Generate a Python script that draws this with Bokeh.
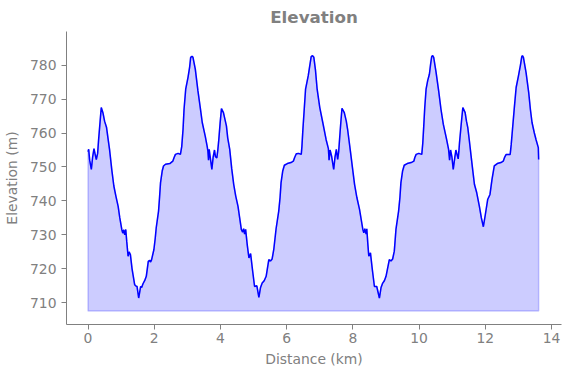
from bokeh.plotting import figure
from bokeh.models import Range1d, FixedTicker
from bokeh.embed import file_html
from bokeh.resources import INLINE

distance_km = [
    0.00, 0.02, 0.05, 0.10, 0.14, 0.18, 0.22, 0.25, 0.29, 0.32, 0.37, 0.40, 0.45, 0.50, 0.56, 0.61,
    0.65, 0.72, 0.78, 0.84, 0.91, 0.96, 1.02, 1.05, 1.08, 1.11, 1.14, 1.17, 1.21, 1.24, 1.28, 1.33,
    1.41, 1.44, 1.48, 1.53, 1.59, 1.62, 1.66, 1.71, 1.76, 1.82, 1.86, 1.89, 1.92, 1.99, 2.03, 2.06,
    2.13, 2.16, 2.19, 2.24, 2.28, 2.34, 2.47, 2.56, 2.60, 2.64, 2.72, 2.79, 2.83, 2.87, 2.90, 2.95,
    3.02, 3.07, 3.10, 3.14, 3.17, 3.24, 3.32, 3.39, 3.45, 3.54, 3.60, 3.62, 3.64, 3.66, 3.69, 3.74,
    3.78, 3.82, 3.85, 3.89, 3.92, 3.95, 3.99, 4.03, 4.09, 4.18, 4.22, 4.28, 4.34, 4.40, 4.46, 4.53,
    4.58, 4.63, 4.67, 4.70, 4.73, 4.76, 4.81, 4.86, 4.91, 4.97, 5.03, 5.10, 5.16, 5.21, 5.26, 5.32,
    5.38, 5.46, 5.51, 5.56, 5.61, 5.68, 5.76, 5.80, 5.83, 5.88, 5.93, 6.02, 6.13, 6.20, 6.24, 6.29,
    6.36, 6.44, 6.46, 6.49, 6.53, 6.57, 6.65, 6.70, 6.74, 6.78, 6.82, 6.87, 6.92, 7.00, 7.09, 7.19,
    7.26, 7.28, 7.31, 7.36, 7.42, 7.46, 7.50, 7.54, 7.57, 7.59, 7.63, 7.67, 7.74, 7.80, 7.84, 7.93,
    7.99, 8.05, 8.12, 8.20, 8.30, 8.33, 8.36, 8.40, 8.42, 8.45, 8.48, 8.53, 8.59, 8.65, 8.72, 8.80,
    8.85, 8.90, 8.95, 9.00, 9.10, 9.15, 9.20, 9.25, 9.30, 9.38, 9.42, 9.45, 9.50, 9.55, 9.64, 9.76,
    9.84, 9.87, 9.91, 9.99, 10.08, 10.11, 10.14, 10.17, 10.21, 10.26, 10.31, 10.35, 10.38, 10.41, 10.44, 10.51,
    10.59, 10.66, 10.73, 10.83, 10.89, 10.92, 10.95, 10.99, 11.03, 11.08, 11.11, 11.18, 11.20, 11.22, 11.27, 11.32,
    11.39, 11.43, 11.47, 11.52, 11.57, 11.62, 11.67, 11.74, 11.82, 11.88, 11.94, 12.00, 12.07, 12.14, 12.20, 12.27,
    12.36, 12.47, 12.54, 12.58, 12.63, 12.75, 12.78, 12.82, 12.88, 12.93, 13.00, 13.06, 13.10, 13.12, 13.15, 13.23,
    13.31, 13.36, 13.41, 13.48, 13.53, 13.60, 13.61,
]

elevation_m = [
    754.5, 755.2, 752.0, 749.3, 753.0, 755.4, 753.5, 752.2, 754.0, 758.1, 764.0, 767.5, 766.0, 763.5, 761.6, 758.0,
    755.2, 749.0, 744.4, 741.5, 738.4, 735.0, 731.6, 730.5, 731.5, 730.0, 731.6, 728.0, 723.7, 725.0, 724.2, 720.0,
    715.3, 715.0, 714.8, 711.4, 714.8, 714.5, 715.6, 716.5, 717.8, 722.2, 722.5, 722.0, 722.7, 725.7, 729.0, 732.1,
    737.0, 741.0, 745.4, 748.8, 750.3, 750.8, 751.0, 751.7, 752.8, 753.7, 754.0, 753.7, 756.0, 761.1, 767.0, 772.9,
    776.4, 779.5, 782.3, 782.6, 782.3, 778.8, 772.4, 767.5, 763.1, 759.1, 756.0, 754.7, 752.0, 755.2, 753.0, 749.3,
    753.0, 755.0, 753.0, 752.7, 755.0, 758.1, 763.0, 767.2, 766.0, 762.1, 758.5, 755.2, 749.5, 744.9, 741.5, 738.4,
    735.0, 731.6, 730.8, 731.8, 730.2, 731.6, 727.0, 723.2, 724.5, 719.5, 714.8, 715.0, 711.6, 714.5, 715.8, 716.5,
    717.8, 722.7, 722.3, 722.9, 725.7, 731.8, 737.0, 741.0, 745.4, 748.8, 750.5, 751.0, 751.3, 751.7, 752.8, 753.9,
    754.0, 753.7, 756.0, 761.1, 767.0, 772.9, 776.8, 780.0, 782.5, 782.8, 782.3, 778.5, 772.9, 767.5, 763.1, 758.1,
    755.4, 752.0, 755.0, 753.0, 749.3, 753.0, 755.2, 752.2, 754.5, 757.2, 762.5, 767.3, 766.0, 763.5, 761.1, 754.2,
    749.5, 744.9, 741.0, 737.5, 731.6, 730.6, 731.8, 730.2, 731.8, 727.5, 723.7, 724.7, 719.5, 714.8, 714.8, 711.4,
    714.5, 715.8, 716.5, 717.8, 722.7, 722.3, 722.9, 725.2, 731.6, 737.0, 741.0, 745.4, 748.8, 750.5, 751.0, 751.3,
    751.7, 752.8, 753.7, 754.0, 753.7, 757.0, 762.1, 767.5, 772.9, 775.5, 777.3, 780.5, 782.5, 782.8, 782.3, 778.0,
    772.4, 767.0, 762.6, 758.1, 755.2, 752.0, 755.0, 753.0, 749.3, 753.0, 755.0, 752.4, 754.5, 757.2, 762.5, 767.5,
    766.0, 763.5, 761.6, 757.5, 753.2, 749.0, 744.9, 742.4, 738.4, 735.0, 732.4, 736.0, 740.4, 741.9, 746.3, 750.3,
    751.0, 751.3, 751.7, 752.8, 753.7, 753.7, 756.5, 761.1, 768.0, 773.4, 776.8, 780.0, 782.5, 782.8, 782.3, 777.8,
    771.9, 767.0, 763.1, 760.0, 758.1, 755.7, 752.2,
]

fill_base_m = 707.6
x_ticks = [0, 2, 4, 6, 8, 10, 12, 14]
y_ticks = [710, 720, 730, 740, 750, 760, 770, 780]

GRAY = "#808080"
FONT = "DejaVu Sans"

p = figure(frame_width=495, frame_height=293, output_backend="svg", toolbar_location=None,
           title="Elevation", x_range=Range1d(-0.65, 14.30), y_range=Range1d(703.6, 789.9),
           min_border_left=59, min_border_right=1, min_border_bottom=0, min_border_top=0)

p.title.align = "center"
p.title.text_color = GRAY
p.title.text_font = FONT
p.title.text_font_size = "16.7px"
p.title.text_font_style = "bold"
p.title.standoff = 9
p.title.offset = 0

poly_x = [distance_km[0]] + distance_km + [distance_km[-1]]
poly_y = [fill_base_m] + elevation_m + [fill_base_m]
p.patch(poly_x, poly_y, fill_color="blue", fill_alpha=0.2, line_color="blue", line_alpha=0.2, line_width=1.5)
p.line(distance_km, elevation_m, line_color="blue", line_width=1.5)

p.outline_line_color = None
p.grid.visible = False

p.xaxis.ticker = FixedTicker(ticks=x_ticks)
p.yaxis.ticker = FixedTicker(ticks=y_ticks)
p.xaxis.axis_label = "Distance (km)"
p.yaxis.axis_label = "Elevation (m)"

for ax in (p.xaxis[0], p.yaxis[0]):
    ax.axis_line_color = GRAY
    ax.major_tick_line_color = GRAY
    ax.minor_tick_line_color = None
    ax.major_tick_out = 5
    ax.major_tick_in = 0
    ax.major_label_text_color = GRAY
    ax.major_label_text_font = FONT
    ax.major_label_text_font_size = "13.9px"
    ax.axis_label_text_color = GRAY
    ax.axis_label_text_font = FONT
    ax.axis_label_text_font_size = "13.9px"
    ax.axis_label_text_font_style = "normal"
    ax.major_label_standoff = 5
    ax.major_label_text_line_height = 1.0
    ax.axis_label_text_line_height = 1.0

p.xaxis.major_label_standoff = 3
p.xaxis.axis_label_standoff = 5
p.yaxis.axis_label_standoff = 7

open("out.html", "w").write(file_html(p, INLINE))
